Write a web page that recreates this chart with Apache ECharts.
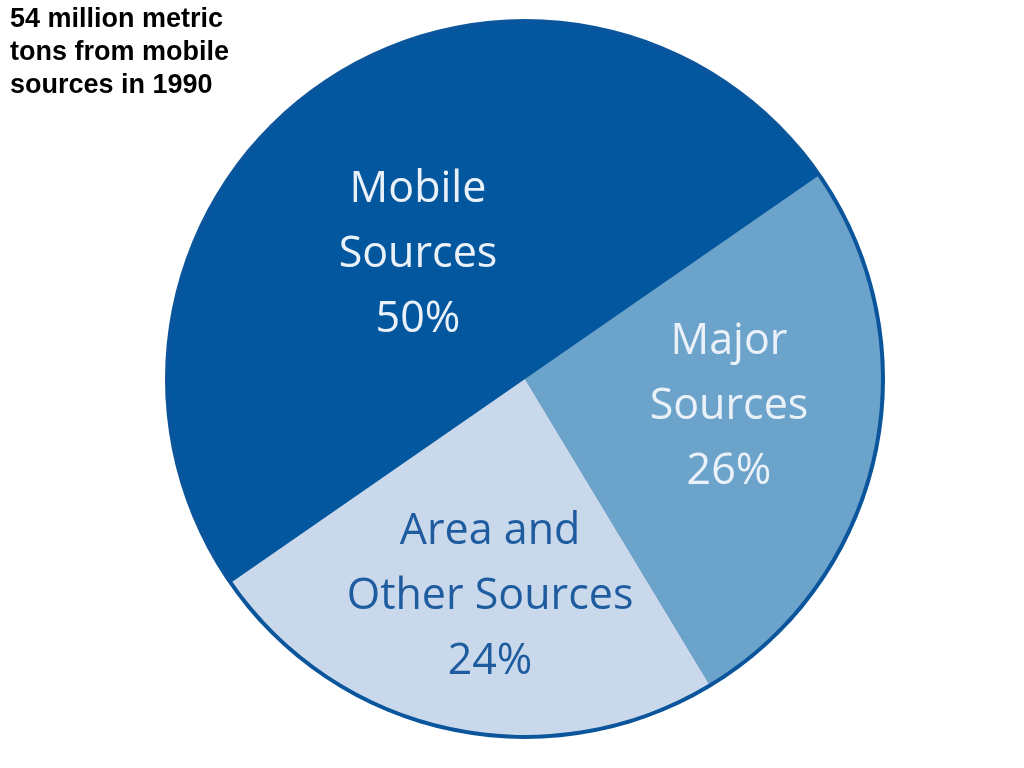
<!DOCTYPE html>
<html>
<head>
<meta charset="utf-8">
<script src="https://cdn.jsdelivr.net/npm/echarts@6/dist/echarts.min.js"></script>
<style>
html,body{margin:0;padding:0;background:#fff;}
#chart{width:1024px;height:768px;}
</style>
</head>
<body>
<div id="chart"></div>
<script>
const titleText = "54 million metric\ntons from mobile\nsources in 1990";
const categories = ["Mobile\nSources", "Major\nSources", "Area and\nOther Sources"];
const values = [50, 26, 24];
const sliceColors = ["#03579F", "#6CA3CB", "#C9D9EB"];
const labelColors = ["#EAF1F8", "#EAF1F8", "#1F5C9F"];

const chart = echarts.init(document.getElementById('chart'));
const labelShift = [[-4, 25], [27, -10], [3, 41]];

const pieData = categories.map((c, i) => ({
  name: c,
  value: values[i],
  itemStyle: { color: sliceColors[i] },
  label: { color: labelColors[i] }
}));

chart.setOption({
  animation: false,
  backgroundColor: '#ffffff',
  title: {
    text: titleText,
    left: 5,
    top: -2,
    textStyle: {
      fontFamily: 'Liberation Sans, Arial, sans-serif',
      fontWeight: 'bold',
      fontSize: 27,
      lineHeight: 33,
      color: '#000000'
    }
  },
  series: [
    {
      type: 'pie',
      silent: true,
      center: [525, 379],
      radius: 360,
      label: { show: false },
      labelLine: { show: false },
      itemStyle: { color: '#0A559C' },
      data: [{ name: 'outline', value: 1 }],
      z: 1
    },
    {
      type: 'pie',
      silent: true,
      center: [525, 379],
      radius: 356,
      startAngle: 214.7,
      clockwise: true,
      label: {
        show: true,
        position: 'inside',
        fontFamily: 'Open Sans, Noto Sans, sans-serif',
        fontSize: 43,
        lineHeight: 65,
        formatter: p => p.name + "\n" + p.value + "%"
      },
      labelLine: { show: false },
      labelLayout: function (params) {
        const s = labelShift[params.dataIndex];
        return { dx: s[0], dy: s[1] };
      },
      emphasis: { disabled: true },
      data: pieData,
      z: 2
    }
  ]
});
</script>
</body>
</html>
